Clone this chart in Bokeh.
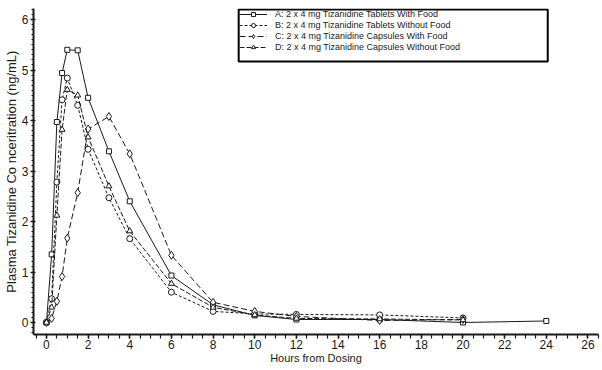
from bokeh.plotting import figure
from bokeh.models import Range1d, SingleIntervalTicker, Legend, LegendItem, BoxAnnotation
from bokeh.embed import file_html
from bokeh.resources import INLINE

# Hours from dosing
hours_A = [0, 0.25, 0.5, 0.75, 1, 1.5, 2, 3, 4, 6, 8, 10, 12, 16, 20, 24]
hours_BCD = [0, 0.25, 0.5, 0.75, 1, 1.5, 2, 3, 4, 6, 8, 10, 12, 16, 20]

# Plasma tizanidine concentration (ng/mL)
conc_A = [0, 1.35, 3.97, 4.94, 5.40, 5.39, 4.45, 3.39, 2.40, 0.93, 0.35, 0.14, 0.06, 0.06, 0.0, 0.03]
conc_B = [0, 0.47, 2.78, 4.41, 4.84, 4.30, 3.43, 2.47, 1.66, 0.60, 0.22, 0.17, 0.16, 0.15, 0.09]
conc_C = [0, 0.08, 0.42, 0.91, 1.67, 2.57, 3.83, 4.08, 3.34, 1.33, 0.40, 0.22, 0.12, 0.04, 0.06]
conc_D = [0, 0.30, 2.12, 3.82, 4.61, 4.50, 3.67, 2.70, 1.81, 0.77, 0.30, 0.15, 0.08, 0.07, 0.05]

labels = [
    "A: 2 x 4 mg Tizanidine Tablets With Food",
    "B: 2 x 4 mg Tizanidine Tablets Without Food",
    "C: 2 x 4 mg Tizanidine Capsules With Food",
    "D: 2 x 4 mg Tizanidine Capsules Without Food",
]

FONT = "Liberation Sans"
INK = "#1a1a1a"

p = figure(width=600, height=368, output_backend="svg", toolbar_location=None,
           x_range=Range1d(-0.622, 26.507), y_range=Range1d(-0.2376, 6.218),
           min_border_left=31, min_border_right=2, min_border_top=8, min_border_bottom=34)
p.outline_line_color = None
p.grid.visible = False
p.background_fill_color = "white"
p.border_fill_color = "white"

p.xaxis.ticker = SingleIntervalTicker(interval=2, num_minor_ticks=4)
p.yaxis.ticker = SingleIntervalTicker(interval=1, num_minor_ticks=10)
p.xaxis.axis_label = "Hours from Dosing"
p.yaxis.axis_label = "Plasma Tizanidine Co nceritration (ng/mL)"

for ax in (p.xaxis, p.yaxis):
    ax.axis_line_width = 2
    ax.axis_line_color = INK
    ax.major_tick_line_color = INK
    ax.minor_tick_line_color = INK
    ax.major_tick_line_width = 1.5
    ax.minor_tick_line_width = 1.2
    ax.major_label_text_font = FONT
    ax.major_label_text_font_size = "12px"
    ax.major_label_text_color = INK
    ax.axis_label_text_font = FONT
    ax.axis_label_text_font_style = "normal"
    ax.axis_label_text_color = INK
    ax.major_label_standoff = 1
    ax.axis_label_standoff = 0

p.xaxis.major_tick_in = 0
p.xaxis.major_tick_out = 4
p.xaxis.minor_tick_in = 0
p.xaxis.minor_tick_out = 4
p.xaxis.axis_label_text_font_size = "11px"

p.yaxis.major_tick_in = 2
p.yaxis.major_tick_out = 3
p.yaxis.minor_tick_in = 0
p.yaxis.minor_tick_out = 2
p.yaxis.axis_label_text_font_size = "13px"
p.yaxis.major_label_standoff = 2

series = [
    (hours_A, conc_A, "solid", "square", 5),
    (hours_BCD, conc_B, "3 2", "circle", 6),
    (hours_BCD, conc_C, "6 3", "diamond", 8),
    (hours_BCD, conc_D, "5 2", "triangle", 6),
]

items = []
for (xs, ys, dash, marker, size), lab in zip(series, labels):
    ln = p.line(xs, ys, line_color=INK, line_width=1, line_dash=dash)
    sc = p.scatter(xs, ys, marker=marker, size=size, line_color=INK, line_width=1,
                   fill_color="white")
    items.append(LegendItem(label=lab, renderers=[ln, sc]))

# frame drawn around the legend
legend_frame = BoxAnnotation(left=9.23, right=24.07, bottom=5.17, top=6.20,
                             fill_color="white", fill_alpha=1,
                             line_color="black", line_alpha=1, line_width=2)
p.add_layout(legend_frame)

legend = Legend(items=items, location=(206, 282), orientation="vertical",
                padding=3, spacing=1, glyph_width=28, glyph_height=10,
                label_height=10, label_standoff=8,
                label_text_font=FONT, label_text_font_size="9px",
                label_text_color=INK, border_line_color=None,
                background_fill_alpha=0, margin=0)
p.add_layout(legend)

open("out.html", "w").write(file_html(p, INLINE))
